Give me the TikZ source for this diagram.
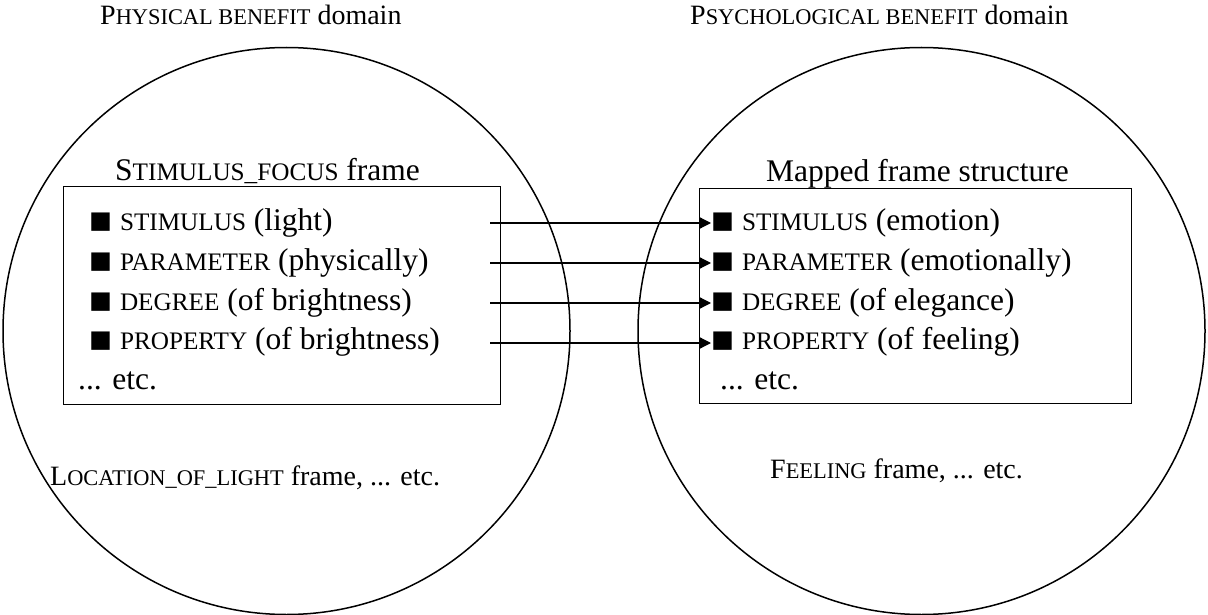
\documentclass[tikz,border=0pt]{standalone}
\usepackage{fontspec}
\setmainfont{Liberation Serif}
\usetikzlibrary{arrows.meta}
% fake small capitals: capitals set at 80% of the running size
\makeatletter
\newcommand\smc[1]{{\fontsize{\fpeval{0.8*\f@size}}{\f@baselineskip}\selectfont #1}}
\makeatother
% slot bullet, a little larger than the running text and resting on the baseline
\newcommand\slotmark{\raisebox{-3pt}{\fontsize{38}{38}\selectfont ■}}
\begin{document}
\begin{tikzpicture}[x=1pt,y=-1pt,
  txt/.style={inner sep=0pt, anchor=base west, font=\fontsize{28}{34}\selectfont},
  boxtxt/.style={inner sep=0pt, anchor=base west, font=\fontsize{31.5}{38}\selectfont},
  domaincircle/.style={draw, circle, line width=1.5pt, minimum size=567pt, inner sep=0pt},
  framebox/.style={draw, line width=1pt},
  maplink/.style={line width=1.3pt, -{Triangle[length=12pt,width=12pt]}}]
\useasboundingbox (0,0) rectangle (1208,615);

% the two domains
\node[domaincircle] (phys) at (286.5,331) {};
\node[domaincircle] (psych) at (921.5,331) {};

% domain titles
\node[txt] (tphys) at (100,25) {P\smc{HYSICAL BENEFIT} domain};
\node[txt] (tpsych) at (690,25) {P\smc{SYCHOLOGICAL BENEFIT} domain};

% frame boxes
\draw[framebox] (63,187) rectangle (500,404);
\draw[framebox] (699,189) rectangle (1131,403);
\node[boxtxt] (fleft) at (115,181) {S\smc{TIMULUS\_FOCUS} frame};
\node[boxtxt] (fright) at (766,182) {Mapped frame structure};

% source frame elements
\node[boxtxt] (l1) at (89,230) {\slotmark\ \smc{STIMULUS} (light)};
\node[boxtxt] (l2) at (89,270) {\slotmark\ \smc{PARAMETER} (physically)};
\node[boxtxt] (l3) at (89,310) {\slotmark\ \smc{DEGREE} (of brightness)};
\node[boxtxt] (l4) at (89,349) {\slotmark\ \smc{PROPERTY} (of brightness)};
\node[boxtxt] (l5) at (78,389) {... etc.};

% target frame elements
\node[boxtxt] (r1) at (711,230) {\slotmark\ \smc{STIMULUS} (emotion)};
\node[boxtxt] (r2) at (711,270) {\slotmark\ \smc{PARAMETER} (emotionally)};
\node[boxtxt] (r3) at (711,310) {\slotmark\ \smc{DEGREE} (of elegance)};
\node[boxtxt] (r4) at (711,349) {\slotmark\ \smc{PROPERTY} (of feeling)};
\node[boxtxt] (r5) at (720,389) {... etc.};

% other frames
\node[txt] (oleft) at (50,485) {L\smc{OCATION\_OF\_LIGHT} frame, ... etc.};
\node[txt] (oright) at (770,478) {F\smc{EELING} frame, ... etc.};

% mappings
\coordinate (s1) at (490,223);
\coordinate (s2) at (490,263);
\coordinate (s3) at (490,303);
\coordinate (s4) at (490,343);
\draw[maplink] (s1) -- (r1.west |- s1);
\draw[maplink] (s2) -- (r2.west |- s2);
\draw[maplink] (s3) -- (r3.west |- s3);
\draw[maplink] (s4) -- (r4.west |- s4);
\end{tikzpicture}
\end{document}
